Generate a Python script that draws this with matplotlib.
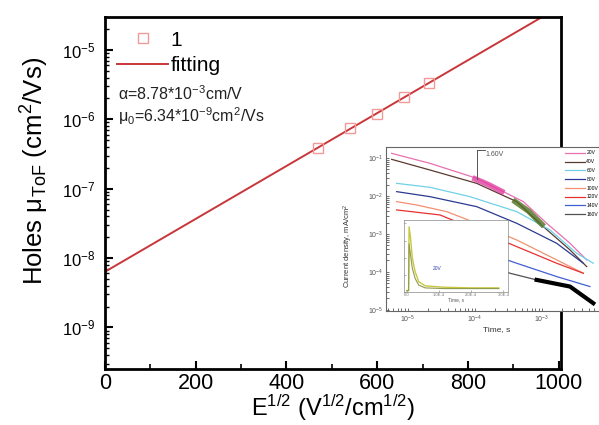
import numpy as np
import matplotlib
matplotlib.use("Agg")
import matplotlib.pyplot as plt
from matplotlib.ticker import LogLocator, MultipleLocator, NullFormatter, FixedLocator

plt.rcParams['font.family'] = ['Liberation Sans', 'DejaVu Sans']
plt.rcParams['mathtext.fontset'] = 'custom'
plt.rcParams['mathtext.rm'] = 'Liberation Sans'
plt.rcParams['mathtext.it'] = 'Liberation Sans:italic'
plt.rcParams['mathtext.default'] = 'regular'

# ---------------- main data ----------------
sqrtE_points = [470, 540, 600, 660, 715]
mu_points = [3.9e-7, 7.4e-7, 1.2e-6, 2.1e-6, 3.3e-6]
alpha = 8.78e-3
mu0 = 6.34e-9
fit_x = [0, 1005]

# ---------------- inset data (log10 t, log10 J) ----------------
inset_labels = ["20V", "40V", "60V", "80V", "100V", "120V", "140V", "160V"]
inset_colors = ["#e870b0", "#5a3a30", "#70d0e8", "#2a3a90", "#f49070", "#e83030", "#4060d0", "#505050"]
A_t = [-5.244, -4.672, -3.975, -3.577, -3.279, -2.930, -2.582, -2.333]
A_J = [-0.877, -1.140, -1.535, -1.886, -2.149, -2.719, -3.246, -3.684]
B_t = [-5.244, -4.672, -3.975, -3.378, -2.980, -2.582, -2.333]
B_J = [-1.035, -1.316, -1.667, -2.149, -2.807, -3.421, -3.860]
C_t = [-5.169, -4.672, -4.075, -3.378, -2.881, -2.482, -2.234]
C_J = [-1.667, -1.772, -2.018, -2.412, -2.895, -3.509, -3.772]
D_t = [-5.169, -4.672, -3.975, -3.378, -2.781, -2.383]
D_J = [-1.886, -2.018, -2.281, -2.719, -3.246, -3.772]
E_t = [-5.169, -4.871, -4.423, -3.975, -3.378, -2.781, -2.383]
E_J = [-2.149, -2.237, -2.412, -2.719, -3.158, -3.684, -4.035]
F_t = [-5.169, -4.522, -3.975, -3.378, -2.781, -2.383]
F_J = [-2.368, -2.500, -2.895, -3.333, -3.772, -4.035]
G_t = [-4.721, -4.274, -3.876, -3.378, -2.781, -2.284]
G_J = [-2.982, -3.158, -3.465, -3.772, -4.123, -4.386]
H_t = [-4.721, -4.274, -3.876, -3.478, -3.080, -2.582, -2.234]
H_J = [-3.246, -3.421, -3.772, -4.035, -4.211, -4.386, -4.825]
burst1_t = [-4.00, -3.80, -3.60]
burst1_J = [-1.55, -1.70, -1.88]
burst2_t = [-3.40, -3.20, -3.00]
burst2_J = [-2.15, -2.40, -2.75]
inset_xticks = [1e-5, 1e-4, 1e-3]

# inner inset (linear)
inner_t = [0, 20, 25, 40, 60, 90, 130, 200, 400, 700, 1000]
inner_J1 = [0.02, 0.02, 0.95, 0.80, 0.50, 0.30, 0.15, 0.09, 0.07, 0.06, 0.06]
inner_J2 = [0.02, 0.02, 0.70, 0.55, 0.35, 0.20, 0.10, 0.06, 0.05, 0.05, 0.05]

# ---------------- figure ----------------
fig = plt.figure(figsize=(5.99, 4.25), dpi=100)
ax = fig.add_axes([105/599, 1-369/425, 456/599, (369-17)/425])

xx = np.linspace(fit_x[0], fit_x[1], 200)
ax.plot(sqrtE_points, mu_points, 's', mfc='none', mec='#f29a9a', ms=7, mew=1.0,
        label='1', zorder=3)
ax.plot(xx, mu0*np.exp(alpha*xx), '-', color='#c8363a', lw=1.4, label='fitting', zorder=2)
ax.set_yscale('log')
ax.set_xlim(0, 1005)
ax.set_ylim(10**-9.60, 10**-4.525)
ax.xaxis.set_major_locator(MultipleLocator(200))
ax.xaxis.set_minor_locator(MultipleLocator(100))
ax.yaxis.set_major_locator(LogLocator(base=10, numticks=20))
ax.yaxis.set_minor_locator(LogLocator(base=10, subs=np.arange(2, 10), numticks=20))
ax.yaxis.set_minor_formatter(NullFormatter())
ax.tick_params(axis='x', which='major', direction='in', length=6, width=1.5, labelsize=15.5, pad=3)
ax.tick_params(axis='x', which='minor', direction='in', length=3.5, width=1.2)
ax.tick_params(axis='y', which='major', direction='in', length=6, width=1.5, labelsize=12, pad=7)
ax.tick_params(axis='y', which='minor', direction='in', length=3, width=1.0)
for s in ax.spines.values():
    s.set_linewidth(2.0)
ax.set_xlabel('E$^{1/2}$ (V$^{1/2}$/cm$^{1/2}$)', fontsize=17)
ax.xaxis.set_label_coords(0.5, -0.068)
ax.set_ylabel('Holes $\\mu_{ToF}$ (cm$^2$/Vs)', fontsize=18.5)
ax.yaxis.set_label_coords(-0.118, 0.5625)
leg = ax.legend(loc='upper left', bbox_to_anchor=(0.009, 0.985), frameon=False, fontsize=15,
                handlelength=2.45, handletextpad=0.1, labelspacing=0.3, borderaxespad=0.0)
ax.text(0.028, 0.782, '$\\alpha$=8.78*10$^{-3}$cm/V', transform=ax.transAxes, fontsize=11.5,
        va='center', color='#222222')
ax.text(0.028, 0.717, '$\\mu_0$=6.34*10$^{-9}$cm$^2$/Vs', transform=ax.transAxes, fontsize=11.5,
        va='center', color='#222222')

# ---------------- inset ----------------
ins = fig.add_axes([386/599, 1-311/425, 254/599, (311-147)/425])
ins.set_facecolor('white')
curves = [(A_t, A_J), (B_t, B_J), (C_t, C_J), (D_t, D_J), (E_t, E_J), (F_t, F_J), (G_t, G_J), (H_t, H_J)]
for (t, J), c, lab in zip(curves, inset_colors, inset_labels):
    ins.plot(10**np.array(t), 10**np.array(J), '-', color=c, lw=0.9, label=lab)
ins.plot(10**np.array(burst1_t), 10**np.array(burst1_J), '-', color='#e040a0', lw=4, alpha=0.8)
ins.plot(10**np.array(burst2_t), 10**np.array(burst2_J), '-', color='#507020', lw=4, alpha=0.8)
ins.plot(10**np.array(H_t[-3:]), 10**np.array(H_J[-3:]), '-', color='black', lw=3)
ins.set_xscale('log')
ins.set_yscale('log')
ins.set_xlim(10**-5.328, 10**-1.537)
ins.set_ylim(10**-5.03, 10**-0.71)
ins.xaxis.set_major_locator(FixedLocator(inset_xticks))
ins.yaxis.set_major_locator(LogLocator(base=10, numticks=10))
ins.xaxis.set_minor_formatter(NullFormatter())
ins.yaxis.set_minor_formatter(NullFormatter())
ins.tick_params(which='both', direction='in', labelsize=5, length=2, width=0.6, colors='#555555', pad=2)
for s in ins.spines.values():
    s.set_linewidth(0.8)
    s.set_color('#666666')
ins.set_xlabel('Time, s', fontsize=6, color='#333333')
ins.xaxis.set_label_coords((497-386)/254, -0.09)
ins.set_ylabel('Current density, mA/cm$^2$', fontsize=5.5, color='#333333')
ins.yaxis.set_label_coords(-0.122, 0.40)
ins.plot([10**-3.975, 10**-3.975], [10**-1.55, 10**-0.80], '-', color='#555555', lw=0.7)
ins.plot([10**-3.975, 10**-3.85], [10**-0.80, 10**-0.80], '-', color='#555555', lw=0.7)
ins.text(10**-3.85, 10**-0.95, '1.60V', fontsize=5, color='#555555')
ins.legend(loc='upper left', bbox_to_anchor=(0.69, 1.0), frameon=False, fontsize=3.6,
           handlelength=4.0, labelspacing=0.75, handletextpad=0.3, borderaxespad=0.3)

# inner inset
inn = fig.add_axes([404/599, 1-292/425, (508-404)/599, (292-220)/425])
inn.set_facecolor('white')
inn.plot(inner_t, inner_J1, '-', color='#c8c840', lw=1.0)
inn.plot(inner_t, inner_J2, '-', color='#909a50', lw=0.8)
inn.set_xlim(-30, 1100)
inn.set_ylim(0, 1.05)
inn.set_xticks([0, 350, 700, 1050])
inn.set_xticklabels(['0.0', '1.0E-4', '2.0E-4', '3.0E-4'])
inn.set_yticks([0, 0.25, 0.5, 0.75, 1.0])
inn.set_yticklabels([])
inn.tick_params(which='both', direction='in', labelsize=3, length=1.5, width=0.4, colors='#777777', pad=1)
for s in inn.spines.values():
    s.set_linewidth(0.5)
    s.set_color('#888888')
inn.set_xlabel('Time, s', fontsize=3.5, labelpad=0, color='#555555')
inn.text(280, 0.32, '20V', fontsize=3.5, color='#3040b0')

fig.savefig('out.png', dpi=100)
